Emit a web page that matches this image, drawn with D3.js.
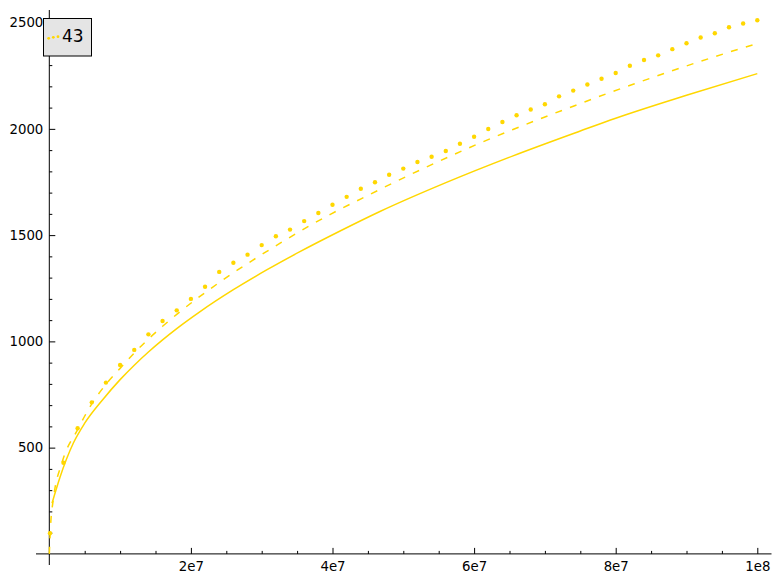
<!DOCTYPE html>
<html>
<head>
<meta charset="utf-8">
<script src="https://cdn.jsdelivr.net/npm/d3@7"></script>
<style>
  body { margin: 0; background: #fff; }
  svg { display: block; }
  text { font-family: "DejaVu Sans", sans-serif; }
</style>
</head>
<body>
<svg width="781" height="584"></svg>
<script>
// values (x in millions)
var pointsX = [0.1, 2, 4, 6, 8, 10, 12, 14, 16, 18, 20, 22, 24, 26, 28, 30, 32, 34, 36, 38, 40,
  42, 44, 46, 48, 50, 52, 54, 56, 58, 60, 62, 64, 66, 68, 70, 72, 74, 76, 78, 80,
  82, 84, 86, 88, 90, 92, 94, 96, 98, 100];
var pointsY = [97, 429, 591, 713, 806, 889, 960, 1033, 1096, 1146, 1200, 1257, 1327, 1370, 1408, 1453, 1495, 1526, 1566, 1604, 1643,
  1680, 1718, 1749, 1784, 1813, 1844, 1869, 1896, 1930, 1963, 1999, 2032, 2064, 2091, 2116, 2153, 2180, 2209, 2236, 2263,
  2297, 2324, 2346, 2375, 2403, 2430, 2450, 2478, 2496, 2511];

var dashedX = [0, 0.2, 0.56, 1.8, 4, 6, 8, 10, 12, 14, 16, 18, 20.8, 22.7, 24.6, 26.6, 28.6, 30.6,
  32.6, 34.5, 36.6, 39.7, 44.1, 48.4, 52.6, 56.8, 61.1, 65.5, 70, 75, 78.7, 83, 87.4, 92, 96.5, 100];
var dashedY = [0, 143, 254, 430, 585, 706, 798, 873, 945, 1011, 1071, 1127, 1200, 1246, 1291, 1336, 1379, 1421,
  1462, 1500, 1541, 1598, 1672, 1743, 1810, 1874, 1937, 1997, 2056, 2119, 2165, 2216, 2267, 2318, 2366, 2401];

var solidX = [0.38, 1.5, 3.4, 5, 7.6, 10, 12, 14, 16, 18, 21.3, 26, 30.7, 35.4, 41, 46.7, 56.1, 65.5, 75, 80, 90, 100];
var solidY = [238, 360, 522, 615, 728, 820, 888, 950, 1007, 1060, 1140, 1243, 1336, 1422, 1518, 1611, 1748, 1873, 1990, 2050, 2158, 2260];

var xTicks = [2e7, 4e7, 6e7, 8e7, 1e8];
var xTickLabels = ["2e7", "4e7", "6e7", "8e7", "1e8"];
var yTicks = [500, 1000, 1500, 2000, 2500];
var legendLabel = "43";

var gold = "#ffd700";

var svg = d3.select("svg");

var x = d3.scaleLinear().domain([0, 1e8]).range([49.3, 757.3]);
var y = d3.scaleLinear().domain([0, 2500]).range([553.9, 22.6]);

function toPairs(xs, ys) {
  return xs.map(function(v, i) { return [v * 1e6, ys[i]]; });
}

// axes lines
svg.append("line")
  .attr("x1", 36).attr("x2", 771.5)
  .attr("y1", y(0)).attr("y2", y(0))
  .attr("stroke", "#000").attr("stroke-width", 1);
svg.append("line")
  .attr("x1", x(0)).attr("x2", x(0))
  .attr("y1", 10).attr("y2", 565)
  .attr("stroke", "#000").attr("stroke-width", 1);

// minor ticks
var xMinor = d3.range(5e6, 1e8, 5e6).filter(function(v) { return v % 2e7 !== 0; });
var yMinor = d3.range(100, 2500, 100).filter(function(v) { return v % 500 !== 0; });

svg.append("g")
  .attr("transform", "translate(0," + y(0) + ")")
  .call(d3.axisBottom(x).tickValues(xMinor).tickSize(-3).tickFormat(""))
  .call(function(g) { g.select(".domain").remove(); });
svg.append("g")
  .attr("transform", "translate(" + x(0) + ",0)")
  .call(d3.axisLeft(y).tickValues(yMinor).tickSize(-3).tickFormat(""))
  .call(function(g) { g.select(".domain").remove(); });

// major ticks
var xAxis = svg.append("g")
  .attr("transform", "translate(0," + y(0) + ")")
  .call(d3.axisBottom(x).tickValues(xTicks).tickSize(-6).tickPadding(8)
    .tickFormat(function(d, i) { return xTickLabels[i]; }));
xAxis.select(".domain").remove();
xAxis.selectAll("text").attr("font-size", "13.3px").attr("font-family", "DejaVu Sans").attr("fill", "#000");

var yAxis = svg.append("g")
  .attr("transform", "translate(" + x(0) + ",0)")
  .call(d3.axisLeft(y).tickValues(yTicks).tickSize(-6).tickPadding(6)
    .tickFormat(d3.format("d")));
yAxis.select(".domain").remove();
yAxis.selectAll("text").attr("font-size", "13.3px").attr("font-family", "DejaVu Sans").attr("fill", "#000");

// curves
var line = d3.line()
  .x(function(d) { return x(d[0]); })
  .y(function(d) { return y(d[1]); })
  .curve(d3.curveMonotoneX);

svg.append("path")
  .datum(toPairs(solidX, solidY))
  .attr("d", line)
  .attr("fill", "none")
  .attr("stroke", gold)
  .attr("stroke-width", 1.5);

svg.append("path")
  .datum(toPairs(dashedX, dashedY))
  .attr("d", line)
  .attr("fill", "none")
  .attr("stroke", gold)
  .attr("stroke-width", 1.5)
  .attr("stroke-dasharray", "7,8.5");

svg.append("g")
  .selectAll("circle")
  .data(toPairs(pointsX, pointsY))
  .enter().append("circle")
  .attr("cx", function(d) { return x(d[0]); })
  .attr("cy", function(d) { return y(d[1]); })
  .attr("r", 2.2)
  .attr("fill", gold);

// legend
var legend = svg.append("g");
legend.append("rect")
  .attr("x", 43.5).attr("y", 18.5)
  .attr("width", 48).attr("height", 37.5)
  .attr("fill", "#e5e5e5")
  .attr("stroke", "#000")
  .attr("stroke-width", 1);
legend.selectAll("circle")
  .data([[48.7, 38.3], [53.3, 37.3], [58, 36.7]])
  .enter().append("circle")
  .attr("cx", function(d) { return d[0]; })
  .attr("cy", function(d) { return d[1]; })
  .attr("r", 1.4)
  .attr("fill", gold);
legend.append("text")
  .attr("x", 62)
  .attr("y", 42.3)
  .attr("font-size", "17px")
  .attr("fill", "#000")
  .text(legendLabel);
</script>
</body>
</html>
